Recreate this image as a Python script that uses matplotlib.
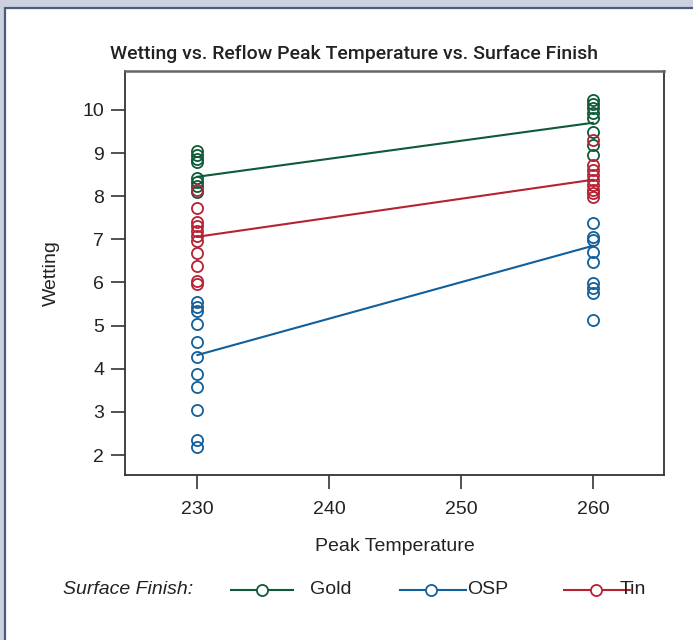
import matplotlib
matplotlib.use("Agg")
import matplotlib.pyplot as plt
from matplotlib.lines import Line2D
from matplotlib.patches import Rectangle

# ---- data ----
temps = [230, 260]
finishes = ["Gold", "OSP", "Tin"]

gold_230 = [9.05, 8.96, 8.86, 8.79, 8.42, 8.33, 8.24, 8.10]
gold_260 = [10.23, 10.14, 10.05, 9.93, 9.81, 9.49, 9.19, 8.96]
tin_230 = [8.14, 7.72, 7.41, 7.31, 7.20, 7.08, 6.95, 6.68, 6.38, 6.04, 5.96]
tin_260 = [9.30, 8.72, 8.60, 8.49, 8.38, 8.26, 8.15, 8.08, 7.98]
osp_230 = [5.55, 5.44, 5.33, 5.05, 4.63, 4.28, 3.89, 3.58, 3.04, 2.35, 2.20]
osp_260 = [7.37, 7.06, 6.99, 6.71, 6.48, 5.98, 5.87, 5.75, 5.13]

gold_mean = [8.45, 9.70]
tin_mean = [7.06, 8.38]
osp_mean = [4.32, 6.85]

x_ticks = [230, 240, 250, 260]
y_ticks = [2, 3, 4, 5, 6, 7, 8, 9, 10]

colors = {"Gold": "#0f5a38", "OSP": "#125f99", "Tin": "#b52234"}

W, H = 693, 640
fig = plt.figure(figsize=(W / 100, H / 100), dpi=100)
fig.patch.set_facecolor("#cbd2dd")
# white panel with dark top/left border
fig.add_artist(Rectangle((4.5 / W, -0.1), 1.2, (H - 7.5) / H + 0.1,
                         transform=fig.transFigure, facecolor="white",
                         edgecolor="#4b5c7c", linewidth=1.6, zorder=0))

ax = fig.add_axes([125 / W, 1 - 475 / H, (664 - 125) / W, (475 - 71) / H])
ax.set_facecolor("white")

series = [
    ("Gold", gold_230, gold_260, gold_mean),
    ("Tin", tin_230, tin_260, tin_mean),
    ("OSP", osp_230, osp_260, osp_mean),
]
for name, a, b, m in series:
    c = colors[name]
    ax.plot([temps[0]] * len(a), a, linestyle="none", marker="o", markersize=8,
            markerfacecolor="none", markeredgecolor=c, markeredgewidth=1.3, zorder=3)
    ax.plot([temps[1]] * len(b), b, linestyle="none", marker="o", markersize=8,
            markerfacecolor="none", markeredgecolor=c, markeredgewidth=1.3, zorder=3)
    ax.plot(temps, m, color=c, linewidth=1.5, zorder=2)

ax.set_xlim(224.5, 265.4)
ax.set_ylim(1.54, 10.9)
ax.set_xticks(x_ticks)
ax.set_yticks(y_ticks)

FAM = ["Liberation Sans", "DejaVu Sans"]
FS = 14
tick_font = dict(family=FAM, size=FS)
ax.set_xticklabels([str(v) for v in x_ticks], fontdict=tick_font, color="#222222")
ax.set_yticklabels([str(v) for v in y_ticks], fontdict=tick_font, color="#222222")
ax.tick_params(axis="x", direction="out", length=10, width=1.2, color="#333333", pad=9)
ax.tick_params(axis="y", direction="out", length=10, width=1.2, color="#333333", pad=5)
for s in ax.spines.values():
    s.set_color("#333333")
    s.set_linewidth(1.3)
ax.spines["top"].set_color("#666666")
ax.spines["top"].set_linewidth(1.8)

ax.set_xlabel("Peak Temperature", fontdict=dict(family=FAM, size=FS),
              color="#222222", labelpad=14)
ax.set_ylabel("Wetting", fontdict=dict(family=FAM, size=FS),
              color="#222222", labelpad=16)

fig.text(354 / W, 1 - 54 / H, "Wetting vs. Reflow Peak Temperature vs. Surface Finish",
         ha="center", va="center", fontsize=14, fontweight="medium", color="#222222",
         family=["Roboto", "Liberation Sans", "DejaVu Sans"])

# legend row
ly = 1 - 590 / H
fig.text(63 / W, ly, "Surface Finish:", ha="left", va="center", fontsize=FS,
         style="italic", color="#222222", family=FAM)
handles = [("Gold", 231, 293, 262, 310), ("OSP", 400, 466, 431, 467), ("Tin", 564, 630, 596, 620)]
for name, x0, x1, xm, xt in handles:
    c = colors[name]
    fig.add_artist(Line2D([x0 / W, x1 / W], [ly, ly], transform=fig.transFigure,
                          color=c, linewidth=1.5))
    fig.add_artist(Line2D([xm / W], [ly], transform=fig.transFigure, linestyle="none",
                          marker="o", markersize=8, markerfacecolor="white",
                          markeredgecolor=c, markeredgewidth=1.3))
    fig.text(xt / W, ly, name, ha="left", va="center", fontsize=FS, color="#222222",
             family=FAM)

fig.savefig("out.png", dpi=100, facecolor=fig.get_facecolor())
